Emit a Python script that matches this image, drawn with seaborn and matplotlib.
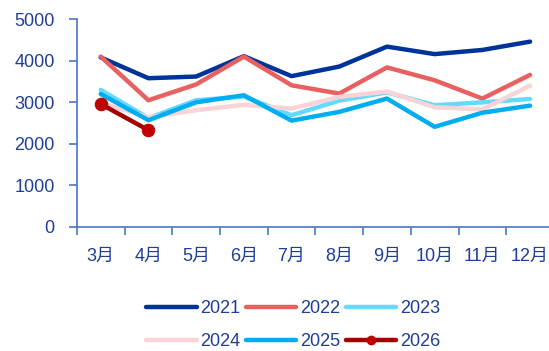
import matplotlib
matplotlib.use("Agg")
import matplotlib.pyplot as plt
import seaborn as sns
import pandas as pd
from matplotlib.lines import Line2D

months = ["3月", "4月", "5月", "6月", "7月", "8月", "9月", "10月", "11月", "12月"]
v2021 = [4080, 3580, 3620, 4110, 3630, 3860, 4340, 4160, 4260, 4460]
v2022 = [4100, 3050, 3430, 4100, 3410, 3210, 3840, 3530, 3090, 3660]
v2023 = [3300, 2620, 3050, 3140, 2690, 3040, 3240, 2930, 3000, 3080]
v2024 = [2990, 2640, 2810, 2940, 2850, 3130, 3260, 2880, 2830, 3400]
v2025 = [3200, 2570, 3000, 3170, 2560, 2770, 3090, 2410, 2750, 2920]
v2026 = [2960, 2330]

series = {"2021": v2021, "2022": v2022, "2023": v2023,
          "2024": v2024, "2025": v2025, "2026": v2026}
colors = {"2021": "#003399", "2022": "#e8605f", "2023": "#66d9ff",
          "2024": "#f9d3d5", "2025": "#00aeef", "2026": "#a30000"}

text_color = "#1f3f97"
axis_color = "#4a76c8"

sns.set_theme(style="white")
plt.rcParams["font.family"] = ["Liberation Sans", "Noto Sans CJK SC"]

fig = plt.figure(figsize=(5.49, 3.51), dpi=100)
ax = fig.add_axes([0.140, 0.3533, 0.869, 0.592])

frames = []
for year, vals in series.items():
    frames.append(pd.DataFrame({"month": months[:len(vals)], "value": vals, "year": year}))
df = pd.concat(frames, ignore_index=True)

for year in series:
    sub = df[df["year"] == year]
    kw = {}
    if year == "2026":
        kw = dict(marker="o", markersize=9, markerfacecolor="#c00000",
                  markeredgecolor="#c00000")
    sns.lineplot(data=sub, x="month", y="value", color=colors[year],
                 linewidth=3.2, ax=ax, sort=False, legend=False, **kw)

ax.set_xlim(-0.5, 9.5)
ax.set_ylim(0, 5000)
ax.set_yticks([0, 1000, 2000, 3000, 4000, 5000])
ax.set_xticks(range(len(months)))
ax.set_xticklabels(months)
ax.set_xticks([i - 0.5 for i in range(len(months) + 1)], minor=True)
ax.set_xlabel("")
ax.set_ylabel("")

for side in ["top", "right"]:
    ax.spines[side].set_visible(False)
for side in ["left", "bottom"]:
    ax.spines[side].set_color(axis_color)
    ax.spines[side].set_linewidth(1.2)

ax.tick_params(axis="x", which="major", length=0, pad=15, labelsize=13, labelcolor=text_color)
ax.tick_params(axis="x", which="minor", length=6, width=1.2, color=axis_color, direction="out", bottom=True)
ax.tick_params(axis="y", length=6, width=1.2, color=axis_color, direction="out", left=True,
               pad=10, labelsize=13, labelcolor=text_color)

handles = {}
for year in series:
    if year == "2026":
        h = Line2D([], [], color=colors[year], linewidth=3.2, marker="o", markersize=6,
                   markerfacecolor="#c00000", markeredgecolor="#c00000")
    else:
        h = Line2D([], [], color=colors[year], linewidth=3.2)
    handles[year] = h

# legend fills column by column, so interleave to read row by row
order = ["2021", "2024", "2022", "2025", "2023", "2026"]
leg = fig.legend([handles[y] for y in order], order, ncol=3, frameon=False,
                 loc="center", bbox_to_anchor=(293 / 549, 1 - 325 / 351),
                 fontsize=13, handlelength=2.8, handletextpad=0.2,
                 columnspacing=0.3, labelspacing=0.9, markerfirst=True,
                 numpoints=1)
for t in leg.get_texts():
    t.set_color(text_color)

fig.savefig("out.png", dpi=100)
